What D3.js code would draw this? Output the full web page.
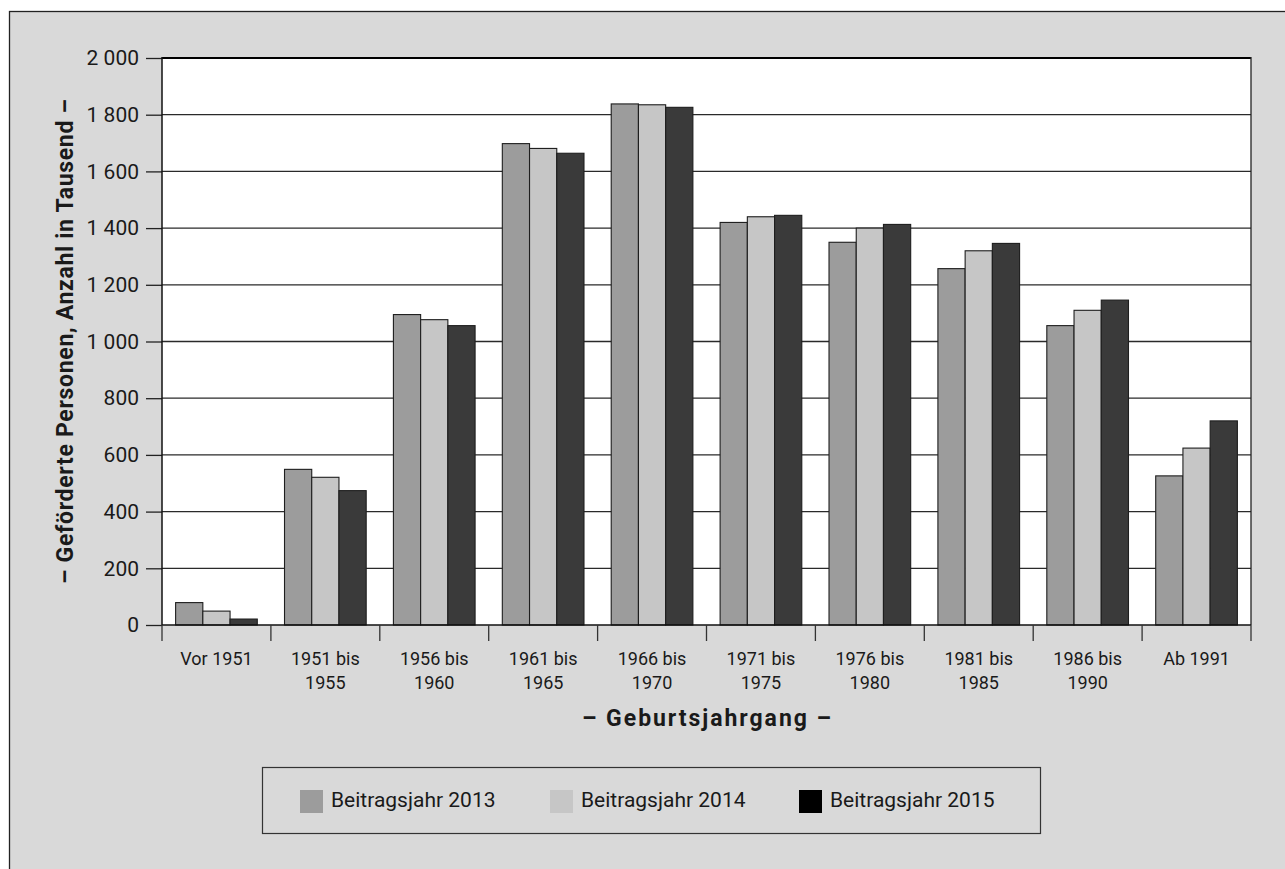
<!DOCTYPE html>
<html><head><meta charset="utf-8">
<script src="https://cdn.jsdelivr.net/npm/d3@7"></script>
<style>
html,body{margin:0;padding:0;background:#fff;}
svg{display:block;font-family:Roboto, "DejaVu Sans", sans-serif;}
</style></head>
<body>
<svg id="chart" width="1285" height="869"></svg>
<script>
const categories = [["Vor 1951"],["1951 bis","1955"],["1956 bis","1960"],["1961 bis","1965"],["1966 bis","1970"],["1971 bis","1975"],["1976 bis","1980"],["1981 bis","1985"],["1986 bis","1990"],["Ab 1991"]];
const seriesNames = ["Beitragsjahr 2013","Beitragsjahr 2014","Beitragsjahr 2015"];
const values2013 = [79, 549, 1095, 1698, 1838, 1420, 1350, 1257, 1056, 526];
const values2014 = [49, 521, 1077, 1681, 1835, 1440, 1400, 1320, 1110, 624];
const values2015 = [21, 474, 1056, 1664, 1826, 1445, 1413, 1346, 1146, 720];
const yTicks = [0,200,400,600,800,1000,1200,1400,1600,1800,2000];
const barColors = ["#9c9c9c","#c6c6c6","#3a3a3a"];
const legendColors = ["#9c9c9c","#c6c6c6","#000000"];

const allValues = [values2013, values2014, values2015];
const svg = d3.select("#chart");

// outer frame
svg.append("rect").attr("x",9.5).attr("y",11.5).attr("width",1300).attr("height",900)
  .attr("fill","#d9d9d9").attr("stroke","#222").attr("stroke-width",1.3);

const L=162, R=1251, T=58, B=625;
const catKeys = categories.map(c=>c.join(" "));
const x = d3.scaleBand().domain(catKeys).range([L,R]);
const xi = d3.scaleBand().domain(seriesNames).range([0,x.bandwidth()]).paddingOuter(0.5).paddingInner(0);
const y = d3.scaleLinear().domain([0,2000]).range([B,T]);

// plot background
svg.append("rect").attr("x",L).attr("y",T).attr("width",R-L).attr("height",B-T).attr("fill","#fff");

// gridlines
svg.append("g").selectAll("line").data(yTicks.filter(t=>t>0)).join("line")
  .attr("x1",L).attr("x2",R).attr("y1",d=>y(d)).attr("y2",d=>y(d))
  .attr("stroke",d=>d===2000?"#000":"#2a2a2a").attr("stroke-width",d=>d===2000?2.2:1.3);

// y axis
const yAxis = d3.axisLeft(y).tickValues(yTicks).tickSize(16).tickPadding(7)
  .tickFormat(d=>d3.format(",")(d).replace(/,/g," "));
const gy = svg.append("g").attr("transform",`translate(${L},0)`).call(yAxis);
gy.select(".domain").remove();
gy.selectAll("line").attr("stroke","#222").attr("stroke-width",1.3);
gy.selectAll("text").attr("font-size",21).attr("fill","#1a1a1a").attr("font-family","Roboto");

// bars
const groups = svg.append("g").selectAll("g").data(catKeys).join("g")
  .attr("transform",d=>`translate(${x(d)},0)`);
groups.selectAll("rect").data((d,i)=>seriesNames.map((s,j)=>({s,j,v:allValues[j][i]}))).join("rect")
  .attr("x",d=>xi(d.s)).attr("width",xi.bandwidth())
  .attr("y",d=>y(d.v)).attr("height",d=>y(0)-y(d.v))
  .attr("fill",d=>barColors[d.j]).attr("stroke","#1e1e1e").attr("stroke-width",1.1);

// axis lines
svg.append("line").attr("x1",L).attr("x2",L).attr("y1",T-1).attr("y2",B).attr("stroke","#111").attr("stroke-width",1.5);
svg.append("line").attr("x1",R).attr("x2",R).attr("y1",T-1).attr("y2",B).attr("stroke","#222").attr("stroke-width",1.3);
svg.append("line").attr("x1",L).attr("x2",R).attr("y1",B).attr("y2",B).attr("stroke","#111").attr("stroke-width",1.5);

// category ticks at boundaries
const bounds = catKeys.map(k=>x(k)).concat([R]);
svg.append("g").selectAll("line").data(bounds).join("line")
  .attr("x1",d=>d).attr("x2",d=>d).attr("y1",B).attr("y2",B+16)
  .attr("stroke","#333").attr("stroke-width",1.3);

// category labels
const lab = svg.append("g").selectAll("text").data(categories).join("text")
  .attr("x",(d,i)=>x(catKeys[i])+x.bandwidth()/2).attr("y",665)
  .attr("text-anchor","middle").attr("font-size",18).attr("fill","#1a1a1a");
lab.selectAll("tspan").data(d=>d).join("tspan")
  .attr("x",function(){return this.parentNode.getAttribute("x");})
  .attr("dy",(d,i)=>i===0?0:24).text(d=>d);

// axis titles
svg.append("text").attr("x",(L+R)/2).attr("y",726).attr("text-anchor","middle")
  .attr("font-size",23).attr("font-weight","bold").attr("fill","#1a1a1a")
  .attr("textLength",249).attr("lengthAdjust","spacing").text("– Geburtsjahrgang –");
svg.append("text").attr("transform",`translate(73,${(T+B)/2}) rotate(-90)`).attr("text-anchor","middle")
  .attr("font-size",23).attr("font-weight","bold").attr("fill","#1a1a1a")
  .attr("textLength",485).attr("lengthAdjust","spacing").text("– Geförderte Personen, Anzahl in Tausend –");

// legend
svg.append("rect").attr("x",262.5).attr("y",767.5).attr("width",778).attr("height",66)
  .attr("fill","none").attr("stroke","#333").attr("stroke-width",1.2);
const legX = [300,550,799];
const lg = svg.append("g").selectAll("g").data(seriesNames).join("g")
  .attr("transform",(d,i)=>`translate(${legX[i]},790)`);
lg.append("rect").attr("width",23).attr("height",23).attr("fill",(d,i)=>legendColors[i]);
lg.append("text").attr("x",31).attr("y",16.5).attr("font-size",21).attr("fill","#1a1a1a").text(d=>d);
</script>
</body></html>
